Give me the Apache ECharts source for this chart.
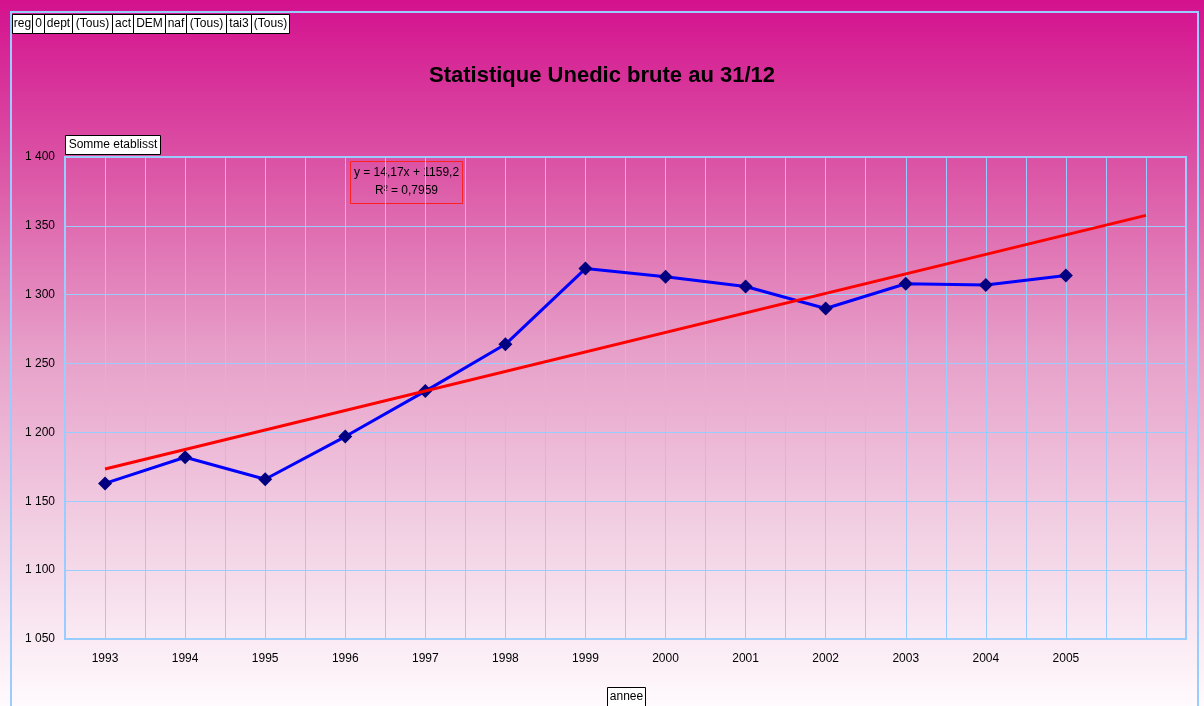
<!DOCTYPE html>
<html>
<head>
<meta charset="utf-8">
<script src="https://cdn.jsdelivr.net/npm/echarts@6/dist/echarts.min.js"></script>
<style>
html,body{margin:0;padding:0;}
#chart{width:1204px;height:706px;}
</style>
</head>
<body>
<div id="chart"></div>
<script>
// ---- data ----
var years = [1993, 1994, 1995, 1996, 1997, 1998, 1999, 2000, 2001, 2002, 2003, 2004, 2005];
var etablissements = [1163, 1182, 1166, 1197, 1230, 1264, 1319, 1313, 1306, 1290, 1308, 1307, 1314];
var trendYears = [1993, 2006];
var trendValues = [1173.4, 1357.6];
var yTicks = [1050, 1100, 1150, 1200, 1250, 1300, 1350, 1400];
var filterLabels = ['reg', '0', 'dept', '(Tous)', 'act', 'DEM', 'naf', '(Tous)', 'tai3', '(Tous)'];
var titleText = 'Statistique Unedic brute au 31/12';
var equationLines = ['y = 14,17x + 1159,2', 'R\u00B2 = 0,7959'];

// ---- layout ----
var filterX = [12, 32, 44, 72, 112, 133, 165, 186, 226, 251, 289];
var font = '"Liberation Sans", Arial, sans-serif';

var chart = echarts.init(document.getElementById('chart'), null, {renderer: 'canvas'});

function boxLabel(x, y, w, h, txt) {
  return {
    type: 'group', left: x, top: y, z: 100,
    children: [
      {type: 'rect', shape: {x: 0.5, y: 0.5, width: w, height: h},
       style: {fill: '#ffffff', stroke: '#000000', lineWidth: 1}},
      {type: 'text', x: w / 2 + 0.5, y: h / 2 + 0.5,
       style: {text: txt, font: '12px ' + font, fill: '#000', align: 'center', verticalAlign: 'middle'}}
    ]
  };
}

var graphics = [
  {type: 'rect', z: 1, shape: {x: 11, y: 12, width: 1187, height: 720},
   style: {fill: 'none', stroke: '#99CCFF', lineWidth: 2}}
];
for (var i = 0; i < filterLabels.length; i++) {
  graphics.push(boxLabel(filterX[i], 14, filterX[i + 1] - filterX[i], 19, filterLabels[i]));
}
graphics.push(boxLabel(65, 135, 95, 19, 'Somme etablisst'));
graphics.push(boxLabel(607, 687, 38, 19, 'annee'));
graphics.push({
  type: 'group', left: 348, top: 159, z: 100,
  children: [
    {type: 'rect', shape: {x: 0.5, y: 0.5, width: 112, height: 42},
     style: {fill: 'none', stroke: '#FF2020', lineWidth: 1}},
    {type: 'text', x: 56.5, y: 11.5,
     style: {text: equationLines[0], font: '12px ' + font, fill: '#000', align: 'center', verticalAlign: 'middle'}},
    {type: 'text', x: 56.5, y: 29.5,
     style: {text: equationLines[1], font: '12px ' + font, fill: '#000', align: 'center', verticalAlign: 'middle'}}
  ]
});

var option = {
  animation: false,
  backgroundColor: {
    type: 'linear', x: 0, y: 0, x2: 0, y2: 1,
    colorStops: [
      {offset: 0, color: '#D4118E'},
      {offset: 0.25, color: '#DC58A7'},
      {offset: 0.5, color: '#E7A0C9'},
      {offset: 0.75, color: '#F2D0E3'},
      {offset: 1, color: '#FFFAFD'}
    ]
  },
  title: {
    text: titleText, left: 'center', top: 60,
    textStyle: {fontFamily: font, fontSize: 22, fontWeight: 'bold', color: '#000'}
  },
  graphic: graphics,
  grid: {left: 65, right: 18, top: 157, bottom: 67, show: true,
         borderColor: '#99CCFF', borderWidth: 2, backgroundColor: 'transparent'},
  xAxis: {
    type: 'value', min: 1992.5, max: 2006.5, interval: 0.5,
    axisLine: {show: true, lineStyle: {color: '#99CCFF', width: 2}},
    axisTick: {show: false},
    splitLine: {show: true, lineStyle: {color: '#99CCFF', width: 1}},
    axisLabel: {
      margin: 14, color: '#000', fontFamily: font, fontSize: 12,
      showMinLabel: true, showMaxLabel: true,
      formatter: function (v) { return years.indexOf(v) >= 0 ? String(v) : ''; }
    }
  },
  yAxis: {
    type: 'value', min: yTicks[0], max: yTicks[yTicks.length - 1], interval: 50,
    axisLine: {show: true, lineStyle: {color: '#99CCFF', width: 2}},
    axisTick: {show: false},
    splitLine: {show: true, lineStyle: {color: '#99CCFF', width: 1}},
    axisLabel: {
      margin: 10, color: '#000', fontFamily: font, fontSize: 12,
      formatter: function (v) { return String(v).replace(/\B(?=(\d{3})+(?!\d))/g, ' '); }
    }
  },
  series: [
    {
      type: 'line', name: 'etablisst', z: 3,
      data: years.map(function (y, i) { return [y, etablissements[i]]; }),
      symbol: 'diamond', symbolSize: 14,
      itemStyle: {color: '#000080'},
      lineStyle: {color: '#0000FF', width: 3}
    },
    {
      type: 'line', name: 'tendance', z: 4,
      data: trendYears.map(function (y, i) { return [y, trendValues[i]]; }),
      symbol: 'none',
      lineStyle: {color: '#FF0000', width: 3}
    }
  ]
};
chart.setOption(option);
</script>
</body>
</html>
